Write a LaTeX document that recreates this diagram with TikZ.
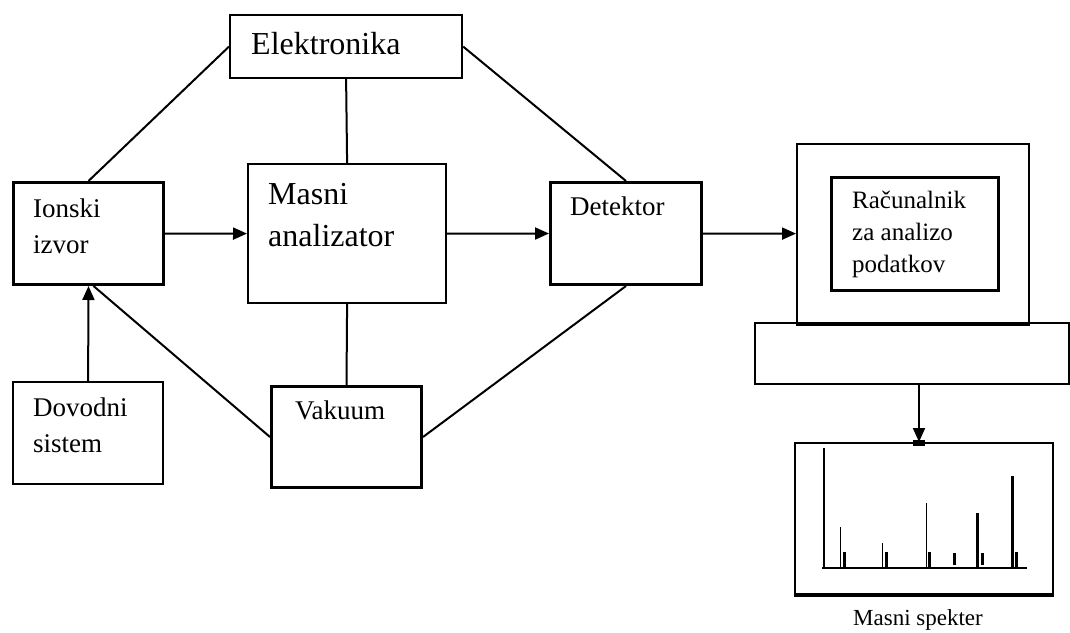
\documentclass[tikz,border=0pt]{standalone}
\usepackage{fontspec}
\setmainfont{Liberation Serif}
\usetikzlibrary{arrows.meta}

\begin{document}
\begin{tikzpicture}[x=1pt,y=-1pt]
% Define common styles
\tikzset{
    box/.style={draw, line width=3pt, anchor=north west, inner sep=0pt},
    thinbox/.style={draw, line width=2.2pt, anchor=north west, inner sep=0pt},
    txt/.style={anchor=base west, align=left, inner sep=0pt, font=\fontsize{27}{36}\selectfont},
    bigtxt/.style={anchor=base west, align=left, inner sep=0pt, font=\fontsize{32}{42}\selectfont},
    link/.style={line width=2pt},
    arrow/.style={-{Triangle[length=14pt,width=12pt]}, line width=2pt},
    peak/.style={line width=1pt},
    fatpeak/.style={line width=3pt}
}
\useasboundingbox (0,0) rectangle (1070,632);

% Blocks of the spectrometer (text anchored at the baseline of its last line)
\node[thinbox, minimum width=232pt, minimum height=63pt] (elek) at (229,14) {};
\node[bigtxt] (elektxt) at (251,54) {Elektronika};

\node[box, minimum width=150pt, minimum height=102pt] (ion) at (12,181) {};
\node[txt] (iontxt) at (33,253) {Ionski\\izvor};

\node[thinbox, minimum width=198pt, minimum height=139pt] (masni) at (247,163) {};
\node[bigtxt] (masnitxt) at (268,246) {Masni\\analizator};

\node[box, minimum width=151pt, minimum height=102pt] (det) at (549,181) {};
\node[txt] (dettxt) at (570,215) {Detektor};

\node[thinbox, minimum width=150pt, minimum height=102pt] (dov) at (12,381) {};
\node[txt] (dovtxt) at (33,452) {Dovodni\\sistem};

\node[box, minimum width=150pt, minimum height=101pt] (vak) at (270,385) {};
\node[txt] (vaktxt) at (295,419) {Vakuum};

% Computer
\node[thinbox, minimum width=232pt, minimum height=179pt] (mon) at (796,143) {};
\node[box, minimum width=167pt, minimum height=113pt] (rac) at (830,176) {};
\node[txt, font=\fontsize{25}{32}\selectfont] (ractxt) at (852,272) {Računalnik\\za analizo\\podatkov};
\node[thinbox, minimum width=314pt, minimum height=61pt] (base) at (754,322) {};
\draw[line width=3.5pt] (mon.south west) -- (mon.south east);

% Connections
\draw[link] (elek.west) -- (ion.north);
\draw[link] (elek.south) -- (masni.north);
\draw[link] (elek.east) -- (det.north);
\draw[link] (masni.south) -- (vak.north);
\draw[link] (vak.west) -- ([xshift=5pt]ion.south);
\draw[link] (vak.east) -- (det.south);
\draw[arrow] (dov.north) -- (ion.south);
\draw[arrow] (ion.east) -- (masni.west);
\draw[arrow] (masni.east) -- (det.west);
\draw[arrow] (det.east) -- (mon.west);

% Mass spectrum
\node[thinbox, minimum width=258pt, minimum height=151pt] (spec) at (794,442) {};
\draw[line width=3pt] (spec.south west) -- (spec.south east);
\node[anchor=base, inner sep=0pt, font=\fontsize{23}{26}\selectfont] (spectxt) at (918,625) {Masni spekter};
\coordinate (basedrop) at (919,383);
\draw[arrow] (basedrop) -- (919,442);
\fill (913,440) rectangle (925,446);

\draw[line width=2pt] (822,568) -- (1027,568);
\draw[line width=2pt] (824,568) -- (824,448);
\draw[peak] (840,568) -- (840,527);
\draw[fatpeak] (844,568) -- (844,552);
\draw[peak] (882,568) -- (882,543);
\draw[fatpeak] (886,568) -- (886,552);
\draw[peak] (926,568) -- (926,503);
\draw[fatpeak] (929,568) -- (929,552);
\draw[fatpeak] (954,565) -- (954,553);
\draw[fatpeak] (977,568) -- (977,513);
\draw[fatpeak] (982,565) -- (982,553);
\draw[fatpeak] (1012,568) -- (1012,476);
\draw[fatpeak] (1016,568) -- (1016,552);
\end{tikzpicture}
\end{document}
